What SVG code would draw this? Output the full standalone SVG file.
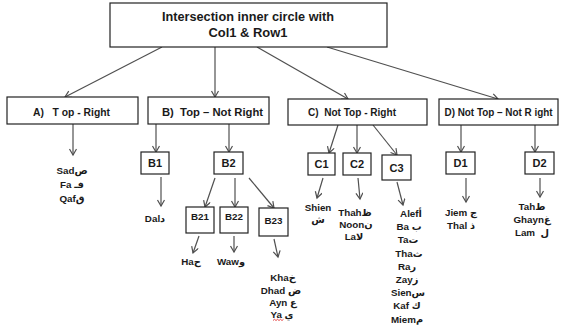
<svg xmlns="http://www.w3.org/2000/svg" width="561" height="329" viewBox="0 0 561 329">
<defs>
<marker id="ah" markerWidth="10" markerHeight="10" refX="7" refY="4" orient="auto" markerUnits="userSpaceOnUse">
<path d="M1,0.5 L7,4 L1,7.5" fill="none" stroke="#505050" stroke-width="1.2"/>
</marker>
</defs>
<style>
.box{fill:#fff;stroke:#222;stroke-width:1.2}
.t{font-family:"Liberation Sans","DejaVu Sans",sans-serif;font-weight:bold;fill:#1a1a1a;text-anchor:middle;white-space:pre}
.h{font-size:12px}
.l{font-size:11px}
.ld{font-size:10.2px}
.s{font-size:9.8px}
.c line{stroke:#505050;stroke-width:1.2;marker-end:url(#ah)}
</style>
<rect width="561" height="329" fill="#fff"/>
<g class="c" id="connectors">
<line x1="162" y1="47" x2="65" y2="97"/>
<line x1="215" y1="47" x2="215" y2="97"/>
<line x1="257" y1="47" x2="348" y2="99"/>
<line x1="327" y1="47" x2="498" y2="99"/>
<line x1="73" y1="124" x2="73" y2="155"/>
<line x1="156" y1="124" x2="156" y2="152"/>
<line x1="229" y1="124" x2="229" y2="152"/>
<line x1="161" y1="177" x2="161" y2="206"/>
<line x1="215" y1="178" x2="205" y2="207"/>
<line x1="235" y1="178" x2="235" y2="207"/>
<line x1="249" y1="178" x2="274" y2="208"/>
<line x1="199" y1="236" x2="193" y2="253"/>
<line x1="234" y1="236" x2="234" y2="252"/>
<line x1="274" y1="239" x2="278" y2="257"/>
<line x1="338" y1="125" x2="329" y2="153"/>
<line x1="357" y1="125" x2="357" y2="153"/>
<line x1="373" y1="125" x2="397" y2="155"/>
<line x1="323" y1="178" x2="317" y2="198"/>
<line x1="358" y1="178" x2="360" y2="199"/>
<line x1="397" y1="182" x2="403" y2="205"/>
<line x1="461" y1="125" x2="461" y2="152"/>
<line x1="535" y1="125" x2="535" y2="152"/>
<line x1="466" y1="178" x2="466" y2="202"/>
<line x1="540" y1="178" x2="540" y2="197"/>
</g>
<g id="root">
<rect class="box" x="110" y="3" width="277" height="44"/>
<text class="t h" x="248" y="21" textLength="172" lengthAdjust="spacingAndGlyphs">Intersection inner circle with</text>
<text class="t h" x="248" y="37" textLength="79" lengthAdjust="spacingAndGlyphs">Col1 &amp; Row1</text>
</g>
<g id="A">
<rect class="box" x="7" y="97" width="131" height="27"/>
<text class="t l" x="71.5" y="116" textLength="77" lengthAdjust="spacingAndGlyphs">A)   T op - Right</text>
</g>
<g id="B">
<rect class="box" x="148" y="97" width="121" height="27"/>
<text class="t l" x="212.5" y="116" textLength="101" lengthAdjust="spacingAndGlyphs">B)  Top – Not Right</text>
</g>
<g id="C">
<rect class="box" x="288" y="99" width="139" height="26"/>
<text class="t l" x="352" y="116" textLength="88" lengthAdjust="spacingAndGlyphs">C)  Not Top - Right</text>
</g>
<g id="D">
<rect class="box" x="439" y="99" width="119" height="26"/>
<text class="t ld" x="498.5" y="116" textLength="108" lengthAdjust="spacingAndGlyphs">D) Not Top – Not R ight</text>
</g>
<g id="A-letters">
<text class="t s" x="72" y="174">Sadص</text>
<text class="t s" x="72" y="188">Fa فـ</text>
<text class="t s" x="72" y="202">Qafق</text>
</g>
<g id="B1">
<rect class="box" x="141" y="152" width="28" height="22"/>
<text class="t l" x="155" y="167">B1</text>
</g>
<g id="B2">
<rect class="box" x="214" y="152" width="29" height="22"/>
<text class="t l" x="228.5" y="167">B2</text>
</g>
<g id="B1-letters">
<text class="t s" x="155" y="222">Dalد</text>
</g>
<g id="B21">
<rect class="box" x="186" y="207" width="28" height="26"/>
<text class="t s" x="200" y="220">B21</text>
</g>
<g id="B22">
<rect class="box" x="220" y="207" width="28" height="26"/>
<text class="t s" x="234" y="220">B22</text>
</g>
<g id="B23">
<rect class="box" x="259" y="208" width="29" height="28"/>
<text class="t s" x="273.5" y="224">B23</text>
</g>
<g id="B21-letters">
<text class="t s" x="191" y="265">Haح</text>
</g>
<g id="B22-letters">
<text class="t s" x="231" y="265">Wawو</text>
</g>
<g id="B23-letters">
<text class="t s" x="283" y="281">Khaخ</text>
<text class="t s" x="281" y="294">Dhad ض</text>
<text class="t s" x="283" y="306">Ayn ع</text>
<text class="t s" x="282" y="318">Ya ي</text>
<path d="M273,320.5 l1.5,-1.2 l1.5,1.2 l1.5,-1.2 l1.5,1.2 l1.5,-1.2 l1.5,1.2 l1.5,-1.2" fill="none" stroke="#e02020" stroke-width="0.8"/>
</g>
<g id="C1">
<rect class="box" x="308" y="153" width="27" height="22"/>
<text class="t l" x="321.5" y="168">C1</text>
</g>
<g id="C2">
<rect class="box" x="343" y="153" width="28" height="22"/>
<text class="t l" x="357" y="168">C2</text>
</g>
<g id="C3">
<rect class="box" x="382" y="155" width="29" height="25"/>
<text class="t l" x="396.5" y="172">C3</text>
</g>
<g id="C1-letters">
<text class="t s" x="318" y="211">Shien</text>
<text class="t s" x="318" y="223">ش</text>
</g>
<g id="C2-letters">
<text class="t s" x="355" y="216">Thahظ</text>
<text class="t s" x="356" y="228">Noonن</text>
<text class="t s" x="354" y="240">Laلا</text>
</g>
<g id="C3-letters">
<text class="t s" x="411" y="217">Alefأ</text>
<text class="t s" x="409" y="230">Ba ب</text>
<text class="t s" x="408" y="243">Taت</text>
<text class="t s" x="409" y="257">Thaث</text>
<text class="t s" x="407" y="270">Raر</text>
<text class="t s" x="407" y="283">Zayز</text>
<text class="t s" x="408" y="296">Sienس</text>
<text class="t s" x="407" y="309">Kaf ك</text>
<text class="t s" x="407" y="323">Miemم</text>
</g>
<g id="D1">
<rect class="box" x="446" y="152" width="29" height="22"/>
<text class="t l" x="460.5" y="167">D1</text>
</g>
<g id="D2">
<rect class="box" x="525" y="152" width="29" height="22"/>
<text class="t l" x="539.5" y="167">D2</text>
</g>
<g id="D1-letters">
<text class="t s" x="461" y="216">Jiem ج</text>
<text class="t s" x="461" y="229">Thal ذ</text>
</g>
<g id="D2-letters">
<text class="t s" x="532" y="210">Tahط</text>
<text class="t s" x="532" y="223">Ghaynغ</text>
<text class="t s" x="532" y="236">Lam  ل</text>
</g>
</svg>
